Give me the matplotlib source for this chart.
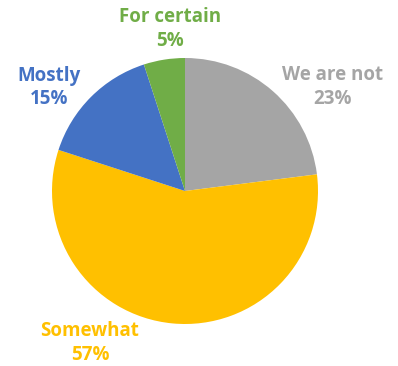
import matplotlib
matplotlib.use("Agg")
import matplotlib.pyplot as plt

categories = ["We are not", "Somewhat", "Mostly", "For certain"]
values = [23, 57, 15, 5]
colors = ["#A5A5A5", "#FFC000", "#4472C4", "#70AD47"]

W, H = 398, 366
fig = plt.figure(figsize=(W / 100, H / 100), dpi=100)
ax = fig.add_axes([0, 0, 1, 1])

cx, cy, r = 185, H - 191, 133
ax.pie(values, colors=colors, startangle=90, counterclock=False,
       center=(cx, cy), radius=r, frame=False,
       wedgeprops=dict(linewidth=0))

# label positions (pixel coords, from top)
label_pos = [(333, 87), (90, 343), (49, 87), (170, 29)]
for cat, v, c, (x, y) in zip(categories, values, colors, label_pos):
    ax.text(x, H - y, f"{cat}\n{v}%", ha="center", va="center",
            color=c, fontsize=13.5, fontweight="bold", family="Open Sans",
            linespacing=1.2)

ax.set_xlim(0, W)
ax.set_ylim(0, H)
ax.set_aspect("equal")
ax.axis("off")
fig.savefig("out.png", dpi=100)
